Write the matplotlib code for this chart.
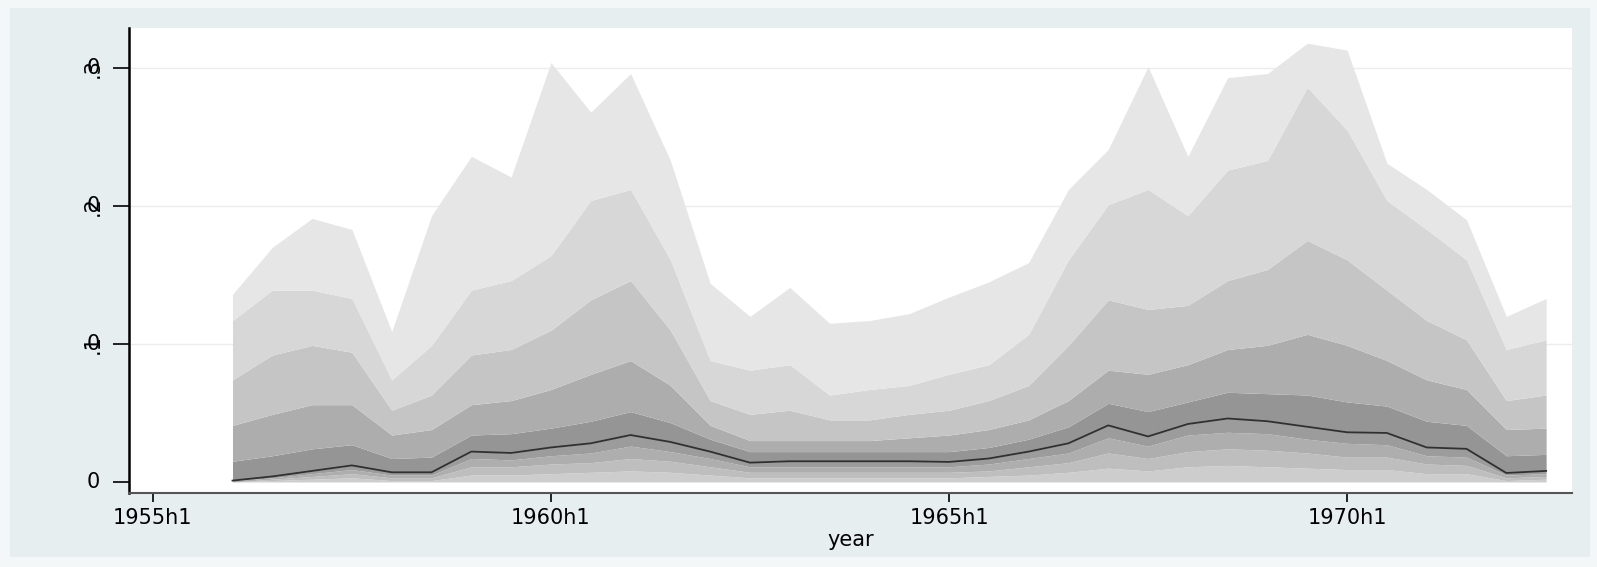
import matplotlib.pyplot as plt
from matplotlib.patches import Rectangle
import numpy as np

plt.rcParams['font.family'] = ['DejaVu Sans']

# half-year periods, counted from 1955h1 (0 = 1955h1)
period = np.arange(2, 36)

# quantile bands of the forecast distribution, bottom to top
lo3 = [.000, .001, .002, .003, .001, .001, .005, .005, .006, .007, .008, .007, .005, .003, .003, .003, .003,
       .003, .003, .004, .005, .007, .010, .008, .011, .012, .011, .010, .009, .009, .006, .006, .001, .002]
lo2 = [.000, .002, .004, .006, .003, .003, .011, .011, .013, .014, .017, .015, .011, .007, .007, .007, .007,
       .007, .007, .008, .011, .014, .021, .017, .022, .024, .023, .021, .018, .018, .013, .012, .003, .004]
lo1 = [.001, .003, .006, .009, .005, .005, .017, .016, .019, .021, .026, .022, .017, .011, .011, .011, .011,
       .011, .011, .013, .017, .021, .032, .026, .034, .036, .035, .031, .028, .027, .019, .018, .005, .006]
median = [.001, .004, .008, .012, .007, .007, .022, .021, .025, .028, .034, .029, .022, .014, .015, .015, .015,
          .015, .0145, .017, .022, .028, .041, .033, .042, .046, .044, .040, .036, .0355, .025, .024, .0065, .008]
up1 = [.015, .019, .024, .027, .017, .018, .034, .035, .039, .044, .051, .043, .031, .022, .022, .022, .022,
       .022, .022, .025, .031, .040, .057, .051, .058, .065, .064, .063, .058, .055, .044, .041, .019, .020]
up2 = [.041, .049, .056, .056, .034, .038, .056, .059, .067, .078, .088, .070, .041, .030, .030, .030, .030,
       .032, .034, .038, .045, .059, .081, .078, .085, .096, .099, .107, .099, .088, .074, .067, .038, .039]
up3 = [.074, .092, .099, .094, .052, .063, .092, .096, .110, .132, .146, .110, .059, .049, .052, .045, .045,
       .049, .052, .059, .070, .099, .132, .125, .128, .146, .154, .175, .161, .139, .117, .103, .059, .063]
up4 = [.117, .139, .139, .133, .074, .099, .139, .146, .164, .204, .212, .161, .088, .081, .085, .063, .067,
       .070, .078, .085, .107, .161, .201, .212, .193, .226, .233, .286, .255, .204, .183, .161, .096, .103]
top = [.136, .170, .191, .183, .109, .193, .236, .221, .304, .268, .296, .233, .144, .120, .141, .115, .117,
       .122, .134, .145, .159, .212, .241, .301, .236, .293, .296, .318, .313, .231, .212, .190, .120, .133]

xticks = [0, 10, 20, 30]
xlabels = ['1955h1', '1960h1', '1965h1', '1970h1']
yticks = [0, .1, .2, .3]
ylabels = ['0', '.1', '.2', '.3']

W, H = 1597, 567
fig = plt.figure(figsize=(W / 100, H / 100), dpi=100)
fig.patch.set_facecolor('#f4f7f8')
fig.patches.append(Rectangle((10 / W, 10 / H), 1580 / W, 549 / H, transform=fig.transFigure,
                             facecolor='#e7eef0', edgecolor='none', zorder=-10))

ax = fig.add_axes([129 / W, 74 / H, 1443 / W, 465 / H])
ax.set_zorder(1)
ax.set_facecolor('white')

bands = [np.zeros(len(period)), lo3, lo2, lo1, median, up1, up2, up3, up4, top]
greys = ['#cdcdcd', '#bebebe', '#aeaeae', '#9c9c9c', '#959595', '#adadad', '#c5c5c5', '#d7d7d7', '#e6e6e6']
for k in range(len(greys)):
    ax.fill_between(period, bands[k], bands[k + 1], color=greys[k], lw=0, zorder=2)

ax.plot(period, median, color='#303030', lw=1.3, zorder=3)

ax.set_xlim(-0.6, 35.65)
ax.set_ylim(-0.008, 0.329)
for yv in yticks[1:]:
    ax.axhline(yv, color='#ececec', lw=1, zorder=1)

ax.set_xticks(xticks)
ax.set_xticklabels(xlabels, fontsize=15)
ax.set_yticks(yticks)
ax.set_yticklabels([])

# y labels: plain zero, with the rotated value label printed over it
lab_x = -36 / 1443
ytrans = ax.get_yaxis_transform()
for yv, lab in zip(yticks, ylabels):
    if lab != '0':
        ax.text(lab_x, yv, lab, transform=ytrans, fontsize=15, rotation=90,
                rotation_mode='anchor', ha='center', va='center')
    ax.text(lab_x, yv, '0', transform=ytrans, fontsize=15, ha='center', va='center')

ax.tick_params(axis='y', length=11.5, width=1.2)
ax.tick_params(axis='x', length=6.5, width=1.2, pad=4)
ax.set_xlabel('year', fontsize=15, labelpad=2)

for s in ['top', 'right']:
    ax.spines[s].set_visible(False)
ax.spines['left'].set_linewidth(1.8)
ax.spines['left'].set_color('black')
ax.spines['bottom'].set_linewidth(1.5)
ax.spines['bottom'].set_color('#555555')

fig.savefig('out.png', dpi=100, facecolor=fig.get_facecolor())
